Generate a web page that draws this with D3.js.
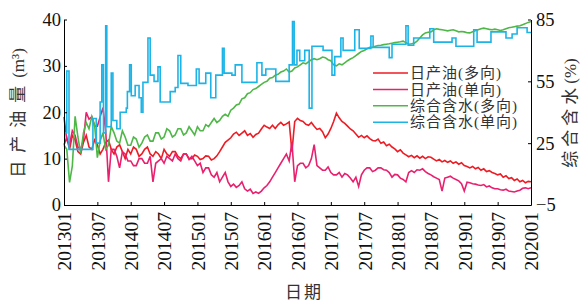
<!DOCTYPE html>
<html>
<head>
<meta charset="utf-8">
<script src="https://cdn.jsdelivr.net/npm/d3@7"></script>
<style>
  body { margin: 0; background: #fff; }
  svg { display: block; }
  svg text { font-family: "Liberation Serif", "Times New Roman", serif; }
  svg text.cjk { font-family: "Liberation Serif", "Noto Sans CJK SC", serif; }
</style>
</head>
<body>
<div id="chart"></div>
<script>
// ---- data (half-monthly, 201301 .. 202001) ----
const tickLabels = ["201301","201307","201401","201407","201501","201507","201601",
                    "201607","201701","201707","201801","201807","201901","201907","202001"];

// 日产油 (多向), m3 -- two readings per month
const oilMulti = [13,14.5, 12,15, 14,11.5, 11,13.5, 15,12.5, 12,14, 13,11, 12,13.5, 14,12, 11,12.5,
  13,11.5, 10,12, 11,12.5, 12,10.5, 11,12, 12.5,11, 10.5,11.5, 11,10, 12,11, 10.5,11.5,
  11.5,10.5, 10,11, 11,10, 10,10.8, 10.5,9.8, 10,10.6, 10.5,9.7, 10,10.6, 11.5,12.5, 13.5,14,
  14.5,15.3, 15.7,15, 15.5,16, 15,15.4, 14.6,15.2, 15.5,16.4, 17.2,16.8, 16.5,17.2, 16.5,17.3, 17.8,17.2,
  17.5,17.9, 11.5,18, 18.7,18.2, 18,17.4, 17.2,17.8, 17,16.3, 16.5,15.8, 14.5,15.3, 16.5,18, 19.8,18.8,
  18,17.6, 17,16.4, 16,15.3, 14.6,15, 14.5,14.9, 14.3,13.9, 13.8,14.2, 13.3,13.6, 12.8,13.1, 12.5,12.1,
  11.5,11.9, 11.2,10.8, 10.4,10.7, 10.2,10.6, 10.1,10.5, 10,10.4, 10.3,9.9, 9.5,9.8, 9.3,9.6, 9.2,9.5,
  9,9.3, 8.8,9.1, 8.5,8.3, 8,8.3, 7.8,8.1, 7.5,7.8, 7.2,7.4, 7,6.8, 6.5,6.7, 6,6.3,
  5.7,5.9, 5.3,5.6, 5,5.3, 4.8,5.1, 5];

// 日产油 (单向), m3
const oilSingle = [19,14, 13,16, 15,12.5, 12,14, 20,18.5, 19,17, 17,19, 21,16, 5,12, 12,10.5,
  8,11.5, 11,9.5, 9.5,8.5, 8.5,10, 10,9, 9,10.5, 5,9, 9.5,10, 9,10.5, 10,9.5,
  11,10, 9.5,11, 11,9.8, 10.5,9.5, 8.5,9, 7,8, 8,6.5, 6,7, 5,6, 7,5,
  4,4.5, 3.8,4.2, 5,3.5, 3,3.4, 2.5,2.8, 2.5,3, 3.7,4.2, 5,6, 7,8, 9,10,
  11,9.5, 13.5,5, 8.5,9, 9,8, 8.5,10, 13,8.5, 8,7.5, 7.5,8.2, 7,6.5, 6.5,7,
  6,6.8, 6.5,5.8, 5,6, 4,6.5, 7.5,8, 8,7.2, 7.5,8, 8,7.6, 7.5,7, 6,6.6,
  6.5,5.8, 5.5,5, 7,7.4, 7,7.6, 7.5,7.8, 7.2,6.8, 6.5,6.1, 5.8,5.5, 3,5.8, 6,6.2,
  5.8,5.5, 5.2,4.6, 3,4.9, 4.8,4.6, 4.5,4.3, 4.2,4.4, 3.9,4.1, 3.7,3.5, 3.5,3.3, 3.2,3.4,
  3,2.9, 2.8,3, 3.2,3.6, 3.7,3.5, 3.7];

// 综合含水 (多向), %
const waterMulti = [24,22, 6,14, 38,28, 20,30, 35,32, 38,34, 18,26, 30,22, 24,33, 30,26,
  25,31, 28,24, 24,28, 27,23, 25,28, 29,26, 26,30, 30,27, 28,32, 31,28,
  29,32, 32,29, 30,33, 31,29, 33,31, 31,34, 33,35, 37,35, 36,38, 39,38,
  41,42, 43.5,44, 46.5,47, 49,49.5, 51,51.5, 52.5,53.5, 54.5,55, 56.5,56.8, 58,58.4, 59.5,60,
  61,59.5, 60,61.5, 62,63, 64,63.5, 64.5,65.5, 66,65.5, 66,66.8, 66.5,65.5, 65,63, 62.5,63.5,
  63,64, 65,65.8, 66.5,67.5, 68.5,69.5, 70,70.8, 71.5,71.5, 72,72.4, 72.5,72.8, 73,73.2, 73.5,73.8,
  74,74.2, 74.5,73.8, 73,73.2, 73.5,74.5, 76,77.5, 78.5,78.8, 79,80, 80.5,80.2, 80,79.8, 79.5,79.8,
  80,79.5, 79,79.2, 79,78.6, 78.5,79, 79.5,80, 80.5,80.8, 80.5,80.2, 80,80.3, 80,79.7, 80,80.5,
  81,81.2, 81.5,81.8, 82,82.5, 83,83.6, 84];

// 综合含水 (单向), % : step series, month position of each change
const waterSingleT = [0,0.5,0.9,5.2,5.8,6.5,6.8,7.1,7.5,7.7, 8.5,8.8,9.5,10.1,11.2,11.4,11.8,12.1,12.8,13.5,
  13.9,14.2,15.1,15.5,16.2,16.9,17.3,19.1,20,20.5, 21,22.3,23.8,24.3,25.5,26.4,27.3,28.5,28.8,30.2,
  30.8,32,34.7,35.6,36.3,38.1,40.5,41.1,41.4,41.9, 42.4,43.3,44.1,44.6,46.6,48.2,48.7,49.8,50.2,52.3,
  53.1,55.2,55.6,58.5,59,61.5,61.9,62.9,65.8,66.5, 69.8,70.5,73.7,74.3,76.8,79.5,80.6,81.5,83.3,84];
const waterSingleV = [30,60,22,37,25,45,63,30,82,33, 59,36,32,40,42,50,63,48,53,47,
  40,54.5,76,58,55,62,45,50,52,67.5, 54,53,61,54,59,47,58,71,59,58,
  63,54.5,64,58,61,55,63,84,63,70, 65,70,42,72,70,58,67,76,70,80,
  71,77,71.5,66.5,73,82,72.5,76,80.5,74, 76,72,80,74,79,76,78,81,78.7,78.7];

const seriesNames = ["日产油(多向)", "日产油(单向)", "综合含水(多向)", "综合含水(单向)"];
const seriesColors = ["#ed1c24", "#e8206e", "#4fb748", "#1cb4e6"];

// ---- setup ----
const W = 582, H = 301;
const margin = {top: 19.5, right: 51, bottom: 96, left: 64},
      width = W - margin.left - margin.right,
      height = H - margin.top - margin.bottom;

const svg = d3.select("#chart").append("svg")
  .attr("width", W).attr("height", H)
  .append("g")
  .attr("transform", `translate(${margin.left},${margin.top})`);

const x = d3.scaleLinear().domain([0, 84]).range([0, width]);
const yOil = d3.scaleLinear().domain([0, 40]).range([height, 0]);
const yWater = d3.scaleLinear().domain([-5, 85]).range([height, 0]);

// ---- lines ----
const halfMonthLine = (scale) => d3.line()
  .x((d, i) => x(i / 2))
  .y(d => scale(d));

svg.append("path").datum(oilMulti)
  .attr("fill", "none").attr("stroke", seriesColors[0]).attr("stroke-width", 1.6)
  .attr("d", halfMonthLine(yOil));
svg.append("path").datum(oilSingle)
  .attr("fill", "none").attr("stroke", seriesColors[1]).attr("stroke-width", 1.6)
  .attr("d", halfMonthLine(yOil));
svg.append("path").datum(waterMulti)
  .attr("fill", "none").attr("stroke", seriesColors[2]).attr("stroke-width", 1.6)
  .attr("d", halfMonthLine(yWater));

const stepLine = d3.line()
  .x(d => x(d[0]))
  .y(d => yWater(d[1]))
  .curve(d3.curveStepAfter);
svg.append("path").datum(d3.zip(waterSingleT, waterSingleV))
  .attr("fill", "none").attr("stroke", seriesColors[3]).attr("stroke-width", 1.6)
  .attr("d", stepLine);

// ---- axes ----
function styleAxis(g) {
  g.attr("font-family", null);
  g.selectAll(".domain").attr("stroke", "#000").attr("stroke-width", 1);
  g.selectAll(".tick line").attr("stroke", "#000");
  g.selectAll("text").attr("fill", "#111");
}

svg.append("g")
  .attr("transform", `translate(0,${height})`)
  .call(d3.axisBottom(x).tickValues(d3.range(0, 85, 6))
    .tickFormat((d, i) => tickLabels[i]).tickSize(-3).tickSizeOuter(0).tickPadding(7))
  .call(styleAxis)
  .call(g => g.selectAll("text")
    .attr("transform", "rotate(-90)")
    .attr("x", -7).attr("y", 0).attr("dy", "0.35em")
    .style("text-anchor", "end")
    .style("font-size", "19.5px"));

svg.append("g")
  .call(d3.axisLeft(yOil).tickValues([0, 10, 20, 30, 40])
    .tickSize(-3).tickSizeOuter(0).tickPadding(3))
  .call(styleAxis)
  .call(g => g.selectAll("text").style("font-size", "18.5px"));

svg.append("g")
  .attr("transform", `translate(${width},0)`)
  .call(d3.axisRight(yWater).tickValues([-5, 25, 55, 85])
    .tickSize(-3).tickSizeOuter(0).tickPadding(5))
  .call(styleAxis)
  .call(g => g.selectAll("text").style("font-size", "18.5px"));

// ---- axis titles ----
const yTitle = svg.append("text")
  .attr("class", "cjk")
  .attr("transform", `translate(${18.5 - margin.left},${113 - margin.top}) rotate(-90)`)
  .attr("dy", "0.35em")
  .style("text-anchor", "middle")
  .style("font-size", "17px")
  .attr("fill", "#333");
yTitle.append("tspan").style("letter-spacing", "8px").text("日产油量");
yTitle.append("tspan").text("(m³)");

const y2Title = svg.append("text")
  .attr("class", "cjk")
  .attr("transform", `translate(${570 - margin.left},${113 - margin.top}) rotate(-90)`)
  .attr("dy", "0.35em")
  .style("text-anchor", "middle")
  .style("font-size", "17px")
  .attr("fill", "#333");
y2Title.append("tspan").style("letter-spacing", "4px").text("综合含水");
y2Title.append("tspan").text("(%)");

svg.append("text")
  .attr("class", "cjk")
  .attr("x", 304 - margin.left)
  .attr("y", 298 - margin.top)
  .style("text-anchor", "middle")
  .style("font-size", "17px")
  .style("letter-spacing", "2px")
  .attr("fill", "#333")
  .text("日期");

// ---- legend ----
const legend = svg.append("g")
  .attr("transform", `translate(${373 - margin.left},${73 - margin.top})`);

seriesNames.forEach((name, i) => {
  const row = legend.append("g").attr("transform", `translate(0,${i * 16.4})`);
  row.append("line")
    .attr("x1", 0).attr("x2", 35).attr("y1", 0).attr("y2", 0)
    .attr("stroke", seriesColors[i]).attr("stroke-width", 1.5);
  row.append("text")
    .attr("class", "cjk")
    .attr("x", 37).attr("y", 0).attr("dy", "0.35em")
    .style("font-size", "15px")
    .style("letter-spacing", "1px")
    .attr("fill", "#333")
    .text(name);
});
</script>
</body>
</html>
